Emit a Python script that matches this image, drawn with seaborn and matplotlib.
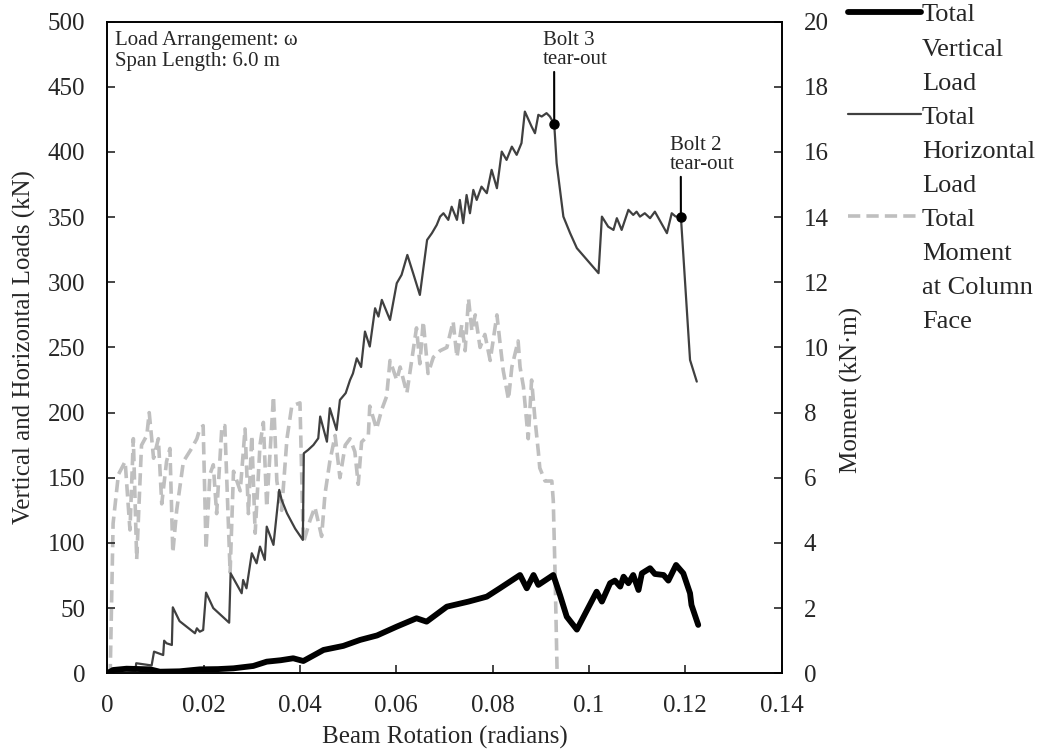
import pandas as pd
import seaborn as sns
import matplotlib
matplotlib.use("Agg")
import matplotlib.pyplot as plt
from matplotlib.lines import Line2D

# Total horizontal load (kN) vs beam rotation (rad)
horiz_rot = [0, 0.0058, 0.0060, 0.0092, 0.0097, 0.0116, 0.0118, 0.0123, 0.0134, 0.0136,
             0.0150, 0.0182, 0.0186, 0.0192, 0.0199, 0.0205, 0.0220, 0.0253, 0.0256, 0.0279,
             0.0282, 0.0289, 0.0300, 0.0310, 0.0317, 0.0327, 0.0331, 0.0345, 0.0357, 0.0362,
             0.0373, 0.0390, 0.0406, 0.0408, 0.0417, 0.0428, 0.0438, 0.0442, 0.0456, 0.0462,
             0.0476, 0.0483, 0.0495, 0.0504, 0.0510, 0.0518, 0.0527, 0.0535, 0.0545, 0.0556,
             0.0563, 0.0570, 0.0587, 0.0601, 0.0611, 0.0623, 0.0635, 0.0649, 0.0664, 0.0674,
             0.0684, 0.0691, 0.0698, 0.0708, 0.0715, 0.0726, 0.0732, 0.0739, 0.0746, 0.0753,
             0.0760, 0.0767, 0.0777, 0.0788, 0.0798, 0.0809, 0.0819, 0.0829, 0.0840, 0.0850,
             0.0860, 0.0867, 0.0881, 0.0888, 0.0895, 0.0902, 0.0912, 0.0919, 0.0928, 0.0933,
             0.0947, 0.0961, 0.0975, 0.1020, 0.1027, 0.1040, 0.1051, 0.1058, 0.1068, 0.1082,
             0.1092, 0.1099, 0.1106, 0.1116, 0.1127, 0.1137, 0.1162, 0.1172, 0.1180, 0.1191,
             0.1210, 0.1224]
horiz_load = [0, 1, 7.7, 6, 16.6, 14, 25, 23, 21.7, 50.6,
              40, 30.7, 34.5, 31.9, 33.2, 61.9, 50, 38.8, 76.7, 61.4,
              71.6, 65.2, 92.1, 84.4, 97.2, 87, 112.5, 98.5, 140.7, 133,
              122.8, 111, 102.3, 168.8, 171.4, 175.2, 180.3, 197, 177.7, 203.4,
              186.7, 209.7, 215, 225, 230, 241.7, 235, 262.2, 250.7, 280.1,
              273.7, 286.5, 271.1, 299.3, 305.7, 321, 307, 290.3, 332.5, 337.7,
              344, 350.4, 353, 347.9, 358, 347.9, 363.2, 345.4, 367, 353,
              370.9, 363.2, 373.4, 368.4, 386.3, 372.2, 400.3, 393.9, 404.1, 397.8,
              406.8, 431, 419.5, 414.4, 428.5, 427.2, 429.8, 427.2, 421.3, 391.4,
              350.4, 337.7, 326.2, 307, 350.4, 342.7, 340.2, 349.2, 340.2, 355.6,
              351.7, 354.2, 350.4, 353, 349.2, 354.2, 337.7, 353, 350.5, 350.4,
              240.4, 223.8]

# Total vertical load (kN)
vert_rot = [0, 0.0012, 0.0040, 0.0089, 0.0109, 0.0150, 0.0192, 0.0230, 0.0262, 0.0303,
            0.0331, 0.0360, 0.0386, 0.0407, 0.0449, 0.0490, 0.0525, 0.0560, 0.0601, 0.0642,
            0.0663, 0.0705, 0.0750, 0.0788, 0.0815, 0.0857, 0.0871, 0.0885, 0.0895, 0.0926,
            0.0940, 0.0954, 0.0975, 0.1009, 0.1016, 0.1027, 0.1044, 0.1054, 0.1065, 0.1072,
            0.1082, 0.1092, 0.1103, 0.1110, 0.1127, 0.1137, 0.1155, 0.1165, 0.1181, 0.1196,
            0.1210, 0.1213, 0.1227]
vert_load = [0, 2.5, 3.5, 3, 1.2, 1.5, 3, 3.2, 3.8, 5.6,
             8.9, 10, 11.5, 9.4, 17.9, 21, 25.6, 29, 35.8, 42.2,
             39.6, 51.1, 55, 58.8, 65.2, 75.4, 65.2, 75.4, 67.8, 75.4,
             60, 43.4, 33.5, 57.6, 62.6, 55, 69.1, 71.1, 66.5, 74.1,
             69.1, 75.4, 63.9, 76.7, 80.6, 76.2, 75.4, 71.1, 83.1, 76.7,
             61.4, 52.4, 37.1]

# Total moment at column face (kN·m)
mom_rot = [0, 0.0006, 0.0012, 0.0023, 0.0037, 0.0047, 0.0054, 0.0061, 0.0071, 0.0082,
           0.0087, 0.0096, 0.0106, 0.0113, 0.0123, 0.0130, 0.0136, 0.0144, 0.0158, 0.0175,
           0.0186, 0.0192, 0.0199, 0.0205, 0.0213, 0.0220, 0.0227, 0.0238, 0.0244, 0.0255,
           0.0262, 0.0276, 0.0286, 0.0293, 0.0300, 0.0307, 0.0317, 0.0324, 0.0331, 0.0338,
           0.0345, 0.0352, 0.0362, 0.0373, 0.0383, 0.0400, 0.0407, 0.0421, 0.0431, 0.0445,
           0.0452, 0.0462, 0.0473, 0.0483, 0.0494, 0.0504, 0.0514, 0.0521, 0.0528, 0.0542,
           0.0545, 0.0559, 0.0570, 0.0580, 0.0587, 0.0601, 0.0608, 0.0622, 0.0632, 0.0642,
           0.0649, 0.0656, 0.0666, 0.0677, 0.0691, 0.0705, 0.0718, 0.0726, 0.0736, 0.0743,
           0.0750, 0.0757, 0.0764, 0.0774, 0.0784, 0.0795, 0.0809, 0.0815, 0.0822, 0.0833,
           0.0840, 0.0853, 0.0857, 0.0864, 0.0874, 0.0881, 0.0888, 0.0895, 0.0898, 0.0909,
           0.0923, 0.0926, 0.0930, 0.0934]
moment = [0, 0, 4.6, 6.1, 6.5, 4.4, 7.2, 3.5, 7.0, 7.3,
          8.0, 6.6, 7.2, 5.2, 6.5, 6.9, 3.7, 5.0, 6.5, 6.9,
          7.2, 7.5, 7.6, 3.8, 6.1, 6.4, 4.9, 7.6, 7.6, 3.1,
          6.2, 5.6, 7.5, 4.9, 7.3, 4.3, 7.0, 7.7, 5.1, 6.8,
          8.5, 5.9, 5.0, 7.2, 8.2, 8.3, 4.0, 4.7, 5.1, 4.2,
          5.5, 6.5, 7.3, 6.0, 7.0, 7.2, 6.8, 5.8, 7.1, 7.3,
          8.2, 7.5, 8.1, 8.5, 9.6, 9.0, 9.4, 8.6, 9.6, 10.6,
          9.5, 10.8, 9.2, 9.7, 9.9, 10.0, 10.8, 9.7, 10.7, 9.9,
          11.5, 10.5, 11.0, 10.0, 10.4, 9.6, 11.0, 10.2, 9.3, 8.4,
          9.4, 10.2, 9.4, 8.8, 7.2, 9.0, 7.8, 6.8, 6.3, 5.9,
          5.9, 5.3, 2.9, 0]

# bolt tear-out events on the horizontal load curve
bolt_rot = [0.0928, 0.1191]
bolt_load = [421.3, 350.4]
bolt_labels = ["Bolt 3\ntear-out", "Bolt 2\ntear-out"]

x_ticks = [0, 0.02, 0.04, 0.06, 0.08, 0.10, 0.12, 0.14]
x_tick_labels = ["0", "0.02", "0.04", "0.06", "0.08", "0.1", "0.12", "0.14"]

series_names = ["Total\nVertical\nLoad", "Total\nHorizontal\nLoad",
                "Total\nMoment\nat Column\nFace"]

sns.set_style("ticks")
plt.rcParams['font.family'] = ['Liberation Serif', 'DejaVu Serif']

vert_df = pd.DataFrame({"rot": vert_rot, "load": vert_load})
horiz_df = pd.DataFrame({"rot": horiz_rot, "load": horiz_load})
mom_df = pd.DataFrame({"rot": mom_rot, "moment": moment})

fig = plt.figure(figsize=(10.44, 7.52), dpi=100)
ax = fig.add_axes([0.1028, 0.1047, 0.6458, 0.8665])
ax2 = ax.twinx()

dash = (0, (3.4, 1.7))
sns.lineplot(data=mom_df, x="rot", y="moment", ax=ax2, sort=False, estimator=None,
             color="#bfbfbf", lw=2.6, linestyle=dash)
sns.lineplot(data=horiz_df, x="rot", y="load", ax=ax, sort=False, estimator=None,
             color="#404040", lw=1.6)
sns.lineplot(data=vert_df, x="rot", y="load", ax=ax, sort=False, estimator=None,
             color="black", lw=4.2)

# keep load curves above the moment curve
ax.set_zorder(ax2.get_zorder() + 1)
ax.patch.set_visible(False)

ax.plot(bolt_rot, bolt_load, "o", color="black", ms=6.5, zorder=5)
for bx, by, lab, dy in zip(bolt_rot, bolt_load, bolt_labels, [40, 31]):
    ax.annotate(lab, xy=(bx, by), xytext=(-8, dy), textcoords="offset points",
                ha="left", va="bottom", fontsize=15, linespacing=1.0,
                arrowprops=dict(arrowstyle="-", color="black", lw=1.5,
                                shrinkA=0, shrinkB=0, relpos=(0.17, 0)))

ax.text(0.0114, 0.985, "Load Arrangement: \u03c9\nSpan Length: 6.0 m",
        transform=ax.transAxes, ha="left", va="top", fontsize=15, linespacing=1.1)

ax.set_xlim(0, 0.14)
ax.set_ylim(0, 500)
ax2.set_ylim(0, 20)
ax.set_xticks(x_ticks)
ax.set_xticklabels(x_tick_labels)
ax.set_yticks(range(0, 501, 50))
ax2.set_yticks(range(0, 21, 2))

for a in (ax, ax2):
    a.tick_params(direction="in", length=5.5, width=1.2, labelsize=18, pad=16)
    for s in a.spines.values():
        s.set_linewidth(1.2)
        s.set_color("black")

ax.set_xlabel("Beam Rotation (radians)", fontsize=18, labelpad=6)
ax.set_ylabel("Vertical and Horizontal Loads (kN)", fontsize=18)
ax2.set_ylabel("Moment (kN\u00b7m)", fontsize=18)
ax.yaxis.set_label_coords(-0.106, 0.5)
ax2.yaxis.set_label_coords(1.086, 0.435)

handles, labels = [], []
styles = [dict(color="black", lw=4.2), dict(color="#404040", lw=1.6),
          dict(color="#bfbfbf", lw=2.6, linestyle=dash)]
for name, st in zip(series_names, styles):
    rows = name.split("\n")
    handles.append(Line2D([], [], **st))
    labels.append(rows[0])
    for r in rows[1:]:
        handles.append(Line2D([], [], color="none"))
        labels.append(r)

fig.legend(handles, labels, loc="upper left", bbox_to_anchor=(848 / 1044, 1 - 3 / 752),
           frameon=False, fontsize=19, handlelength=2.75, handletextpad=0.05,
           labelspacing=0.4, borderpad=0, borderaxespad=0)

fig.savefig("out.png", dpi=100)
